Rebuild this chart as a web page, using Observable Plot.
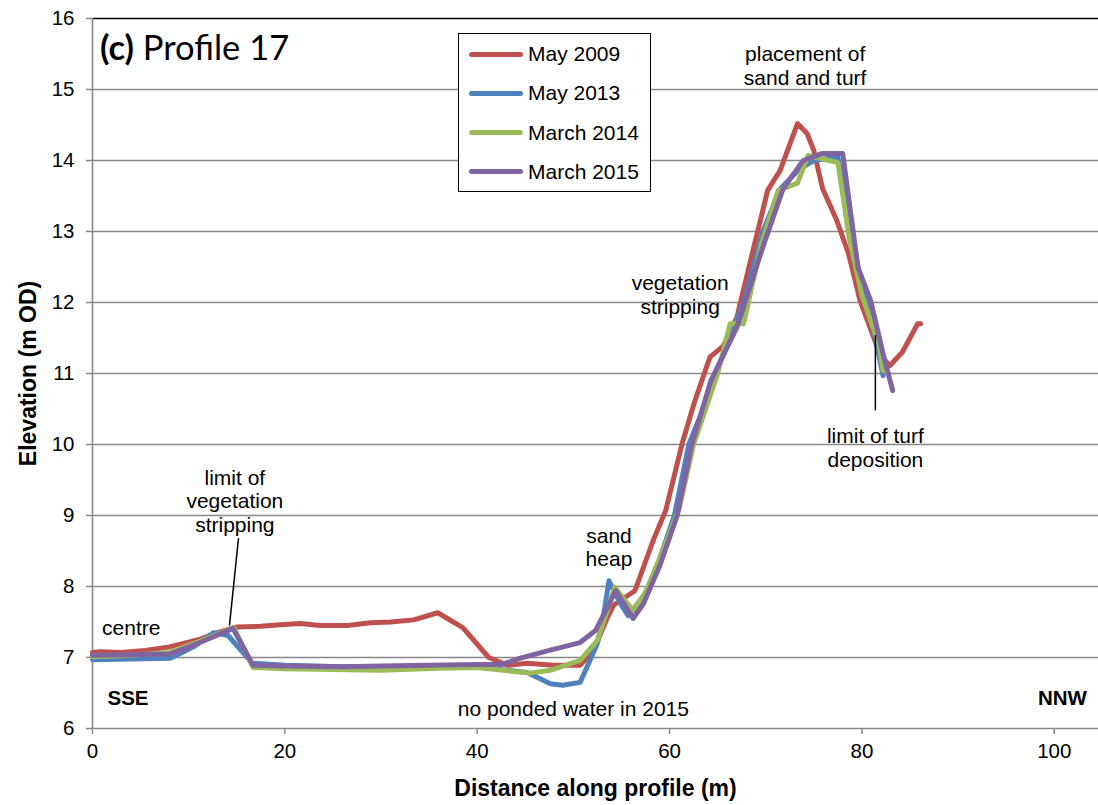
<!DOCTYPE html>
<html>
<head>
<meta charset="utf-8">
<script src="https://cdn.jsdelivr.net/npm/d3@7"></script>
<script src="https://cdn.jsdelivr.net/npm/@observablehq/plot@0.6"></script>
<style>
  body { margin: 0; background: #fff; }
  #wrap { position: relative; width: 1098px; height: 805px; font-family: "Liberation Sans", Arial, sans-serif; }
  #title { position: absolute; left: 100px; top: 27px; font-family: Lato, "Open Sans", sans-serif; font-size: 34.5px; line-height: 40px; color: #000; white-space: nowrap; }
  #legend { position: absolute; left: 458px; top: 33px; width: 191px; height: 157px; border: 1.6px solid #000; background: #fff; }
  .lg { position: absolute; left: 10px; height: 24px; display: flex; align-items: center; font-size: 21px; color: #000; white-space: nowrap; }
  .lg span.sw { display: inline-block; width: 54px; height: 5px; border-radius: 3px; margin-right: 5px; }
</style>
</head>
<body>
<div id="wrap"></div>
<script>
// ---- data ----
const seriesNames = ["May 2009", "May 2013", "March 2014", "March 2015"];
const seriesColors = ["#C0504D", "#4F81BD", "#9BBB59", "#8064A2"];

const may2009X = [0, 0.8, 3, 5.5, 8, 11, 13, 15, 17.5, 19.5, 21.6, 23.7, 26.5, 28.9, 31, 33.4, 35.9, 38.5, 41.2, 43.2, 45.2, 47.9, 50.7, 52.1, 53.5, 54.2, 56.4, 58.3, 59.6, 61.3, 62.6, 64.2, 65.6, 67.0, 68.1, 70.2, 71.5, 73.3, 74.3, 75.0, 75.9, 77.4, 78.6, 79.8, 81.6, 82.1, 82.9, 84.2, 85.8, 86.1];
const may2009Y = [7.07, 7.08, 7.07, 7.1, 7.15, 7.25, 7.35, 7.43, 7.44, 7.46, 7.48, 7.45, 7.45, 7.49, 7.5, 7.53, 7.63, 7.42, 7.0, 6.89, 6.92, 6.89, 6.89, 7.1, 7.55, 7.74, 7.94, 8.65, 9.07, 10.01, 10.6, 11.23, 11.39, 11.79, 12.41, 13.58, 13.86, 14.52, 14.38, 14.14, 13.61, 13.15, 12.69, 12.03, 11.37, 11.23, 11.11, 11.3, 11.7, 11.7];

const may2013X = [0, 4, 8.1, 10.5, 12.6, 14.1, 16.6, 20, 26, 30, 36, 40, 42, 45.2, 47.6, 48.9, 50.7, 51.4, 52.5, 53.1, 53.7, 54.9, 55.7, 56.4, 57.5, 59, 60.5, 62, 63.5, 64.8, 67.7, 69.7, 71.5, 73.5, 75, 77.5, 79.6, 81.4, 82.2];
const may2013Y = [6.97, 6.98, 6.99, 7.15, 7.35, 7.31, 6.92, 6.89, 6.87, 6.87, 6.88, 6.87, 6.84, 6.79, 6.63, 6.61, 6.65, 6.86, 7.2, 7.56, 8.08, 7.76, 7.59, 7.71, 7.9, 8.4, 9.0, 10.0, 10.5, 11.0, 12.0, 13.0, 13.6, 13.88, 14.0, 14.05, 12.49, 11.5, 10.97];

const march2014X = [0, 4, 7.9, 11, 14.7, 16.7, 20, 25, 30, 36, 40, 44, 45.5, 47.6, 50.7, 52.5, 54.3, 56.2, 57.5, 59, 61, 62.5, 65, 66.3, 67.7, 69.5, 71.3, 73.3, 74.4, 77.5, 78.7, 80, 81.8, 82.2];
const march2014Y = [7.01, 7.03, 7.07, 7.22, 7.42, 6.86, 6.84, 6.83, 6.82, 6.85, 6.86, 6.8, 6.78, 6.82, 6.96, 7.24, 7.99, 7.66, 7.92, 8.4, 9.1, 10.0, 11.0, 11.7, 11.7, 12.8, 13.58, 13.68, 14.07, 13.97, 12.9, 12.1, 11.4, 11.04];

const march2015X = [0, 4, 8.1, 11, 14.6, 16.7, 20, 26, 30, 35, 40, 42.5, 44.5, 47.5, 50.7, 52.3, 54.4, 56.2, 57.3, 59, 60.8, 62.3, 64.3, 67.0, 69.5, 71.8, 73.9, 75.9, 78.0, 79.6, 80.9, 82.2, 83.2];
const march2015Y = [7.03, 7.04, 7.05, 7.2, 7.41, 6.89, 6.88, 6.87, 6.88, 6.89, 6.9, 6.9, 6.99, 7.1, 7.21, 7.38, 7.94, 7.55, 7.76, 8.3, 9.0, 10.0, 10.9, 11.65, 12.7, 13.6, 14.0, 14.1, 14.1, 12.49, 12.03, 11.28, 10.76];

const xTicks = [0, 20, 40, 60, 80, 100];
const yTicks = [6, 7, 8, 9, 10, 11, 12, 13, 14, 15, 16];

const centredNotes = [
  {t: "placement of\nsand and turf", x: 74.1, y: 15.34},
  {t: "vegetation\nstripping", x: 61.1, y: 12.11},
  {t: "limit of turf\ndeposition", x: 81.4, y: 9.96},
  {t: "limit of\nvegetation\nstripping", x: 14.8, y: 9.21},
  {t: "sand\nheap", x: 53.7, y: 8.56},
  {t: "no ponded water in 2015", x: 50.0, y: 6.28}
];
const leftNotes = [{t: "centre", x: 1.0, y: 7.41}];
const leftBoldNotes = [{t: "SSE", x: 1.56, y: 6.42}];
const rightBoldNotes = [{t: "NNW", x: 103.4, y: 6.42}];
const pointers = [
  {x1: 81.4, y1: 11.54, x2: 81.4, y2: 10.48},
  {x1: 15.18, y1: 8.68, x2: 14.24, y2: 7.45}
];

// ---- build table ----
const allX = [may2009X, may2013X, march2014X, march2015X];
const allY = [may2009Y, may2013Y, march2014Y, march2015Y];
const rows = [];
seriesNames.forEach((s, i) => allX[i].forEach((x, j) => rows.push({series: s, x, y: allY[i][j]})));

const font = "'Liberation Sans', Arial, sans-serif";
const noteFont = 21;

const chart = Plot.plot({
  width: 1098,
  height: 805,
  marginLeft: 92,
  marginRight: 0,
  marginTop: 18,
  marginBottom: 77,
  style: {fontFamily: font, fontSize: "20px", color: "#000", background: "transparent"},
  x: {domain: [0, 104.6], label: null},
  y: {domain: [6, 16], label: null},
  color: {domain: seriesNames, range: seriesColors},
  marks: [
    Plot.ruleY(yTicks.slice(0, -1), {stroke: "#888", strokeWidth: 1.6}),
    Plot.ruleY([16], {stroke: "#000", strokeWidth: 1.6}),
    Plot.ruleX([0], {stroke: "#888", strokeWidth: 1.6}),
    Plot.axisY({ticks: yTicks, tickSize: 6, tickPadding: 12, stroke: "#888", strokeWidth: 1.5, fontSize: 20.5, label: null}),
    Plot.axisX({ticks: xTicks, tickSize: 6, tickPadding: 9, stroke: "#888", strokeWidth: 1.5, fontSize: 20.5, label: null}),
    Plot.text(["Distance along profile (m)"], {frameAnchor: "bottom", textAnchor: "middle", lineAnchor: "middle", dy: 60, fontWeight: "bold", fontSize: 23}),
    Plot.text(["Elevation (m OD)"], {frameAnchor: "left", textAnchor: "middle", lineAnchor: "middle", rotate: -90, dx: -64, fontWeight: "bold", fontSize: 23}),
    Plot.line(rows, {x: "x", y: "y", z: "series", stroke: "series", strokeWidth: 5, strokeLinejoin: "round", strokeLinecap: "round"}),
    Plot.link(pointers, {x1: "x1", y1: "y1", x2: "x2", y2: "y2", stroke: "#000", strokeWidth: 1.5}),
    Plot.text(centredNotes, {x: "x", y: "y", text: "t", textAnchor: "middle", fontSize: noteFont, lineHeight: 1.12, fill: "#000"}),
    Plot.text(leftNotes, {x: "x", y: "y", text: "t", textAnchor: "start", fontSize: noteFont, fill: "#000"}),
    Plot.text(leftBoldNotes, {x: "x", y: "y", text: "t", textAnchor: "start", fontSize: 20.5, fontWeight: "bold", fill: "#000"}),
    Plot.text(rightBoldNotes, {x: "x", y: "y", text: "t", textAnchor: "end", fontSize: 20.5, fontWeight: "bold", fill: "#000"})
  ]
});

const wrap = document.getElementById("wrap");
wrap.appendChild(chart);

const title = document.createElement("div");
title.id = "title";
title.innerHTML = "<b>(c)</b> Profile 17";
wrap.appendChild(title);

const legend = document.createElement("div");
legend.id = "legend";
seriesNames.forEach((s, i) => {
  const row = document.createElement("div");
  row.className = "lg";
  row.style.top = (8 + i * 39.3) + "px";
  row.innerHTML = `<span class="sw" style="background:${seriesColors[i]}"></span>${s}`;
  legend.appendChild(row);
});
wrap.appendChild(legend);
</script>
</body>
</html>
